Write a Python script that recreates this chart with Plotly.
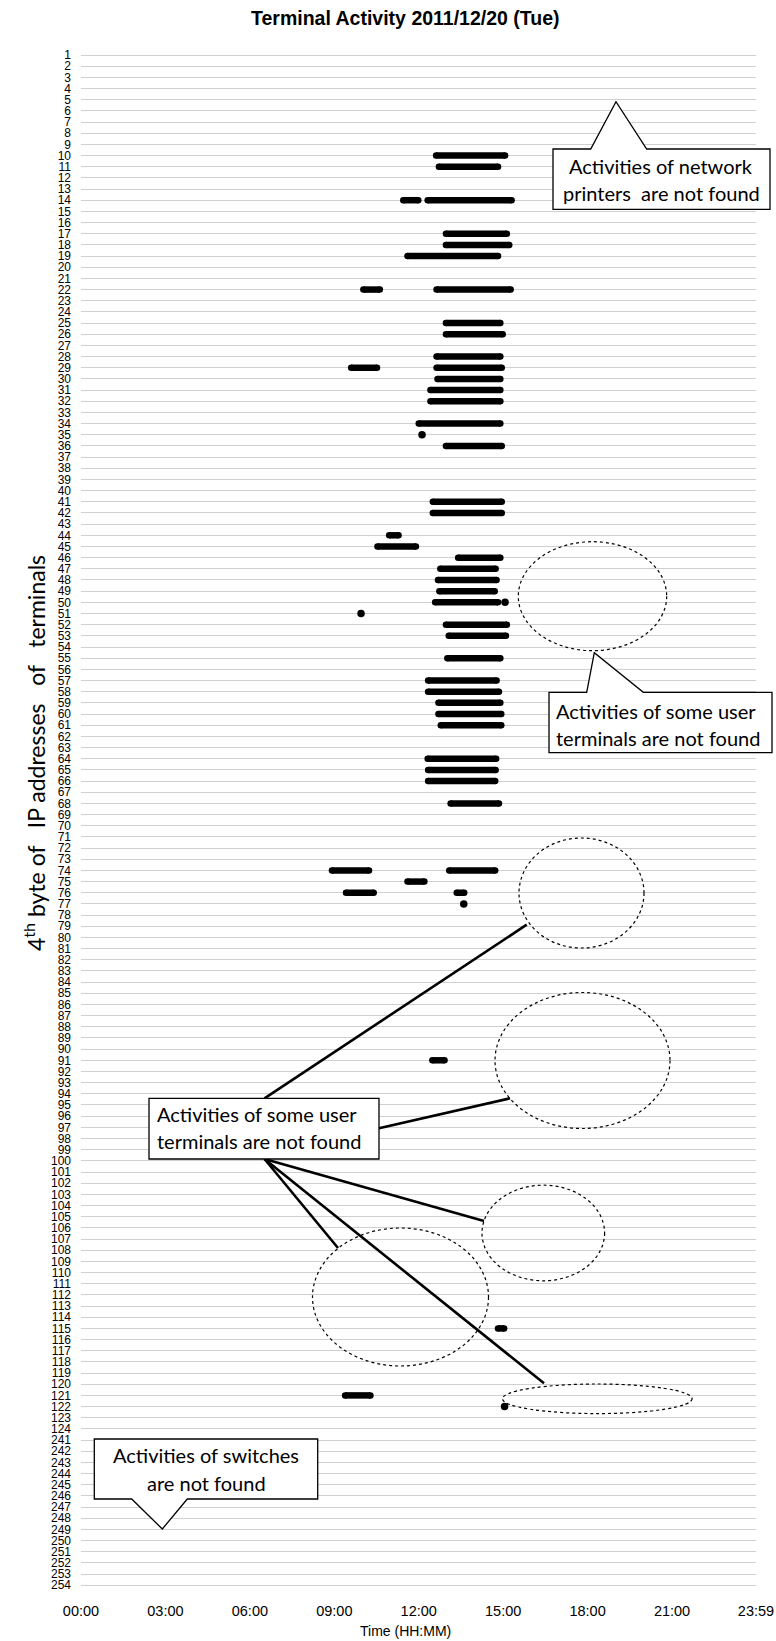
import plotly.graph_objects as go

# ---------------- data ----------------
ip_labels = [str(n) for n in range(1, 125)] + [str(n) for n in range(241, 255)]

seg_ip = ["10", "11", "14", "14", "17", "18", "19", "22", "22", "25", "26", "28",
          "29", "29", "30", "31", "32", "34", "36", "41", "42", "44", "45", "46",
          "47", "48", "49", "50", "52", "53", "55", "57", "58", "59", "60", "61",
          "64", "65", "66", "68", "74", "74", "75", "76", "76", "91", "115", "121"]
seg_start = ["12:37", "12:43", "11:27", "12:19", "12:58", "12:58", "11:36", "10:02", "12:38", "12:58", "12:58", "12:38",
             "09:36", "12:38", "12:40", "12:25", "12:25", "12:00", "12:58", "12:30", "12:30", "10:57", "10:32", "13:24",
             "12:46", "12:41", "12:44", "12:35", "12:58", "13:04", "13:01", "12:20", "12:20", "12:42", "12:42", "12:47",
             "12:19", "12:20", "12:20", "13:08", "08:55", "13:05", "11:36", "09:25", "13:21", "12:29", "14:49", "09:23"]
seg_end = ["15:04", "14:49", "11:59", "15:18", "15:08", "15:13", "14:49", "10:37", "15:16", "14:54", "14:59", "14:54",
           "10:31", "14:57", "14:54", "14:54", "14:54", "14:54", "14:57", "14:57", "14:57", "11:17", "11:54", "14:54",
           "14:44", "14:46", "14:42", "14:49", "15:08", "15:06", "14:54", "14:46", "14:51", "14:54", "14:56", "14:56",
           "14:45", "14:44", "14:43", "14:51", "10:14", "14:43", "12:12", "10:24", "13:37", "12:55", "15:02", "10:17"]

dot_ip = ["35", "50", "51", "77", "122"]
dot_time = ["12:07", "15:04", "09:57", "13:36", "15:03"]

x_tick_labels = ["00:00", "03:00", "06:00", "09:00", "12:00", "15:00", "18:00", "21:00", "23:59"]


def to_min(s):
    h, m = s.split(":")
    return int(h) * 60 + int(m)


x_tick_vals = [to_min(s) for s in x_tick_labels]

# ---------------- geometry ----------------
W, H = 776, 1641
L, R = 81, 20
T, B = 49, 42
PW, PH = W - L - R, H - T - B
ROW0, ROWPX = 55.0, 11.17
y_top = (T - ROW0) / ROWPX
y_bot = y_top + PH / ROWPX


def px(xp):
    return (xp - L) / PW


def py(yp):
    return 1 - (yp - T) / PH


# ---------------- traces ----------------
lx, ly, ex, ey = [], [], [], []
for ip, s, e in zip(seg_ip, seg_start, seg_end):
    yi = ip_labels.index(ip)
    lx += [to_min(s), to_min(e), None]
    ly += [yi, yi, None]
    ex += [to_min(s), to_min(e)]
    ey += [yi, yi]

fig = go.Figure()
fig.add_trace(go.Scatter(x=lx, y=ly, mode="lines", line=dict(color="black", width=6.5),
                         hoverinfo="skip", showlegend=False))
fig.add_trace(go.Scatter(x=ex, y=ey, mode="markers", marker=dict(color="black", size=6.5),
                         hoverinfo="skip", showlegend=False))
fig.add_trace(go.Scatter(x=[to_min(t) for t in dot_time], y=[ip_labels.index(i) for i in dot_ip],
                         mode="markers", marker=dict(color="black", size=7.5),
                         hoverinfo="skip", showlegend=False))

# ---------------- callout shapes ----------------
shapes = []
origin_top = (264.5, 1098.3)
origin_bot = (264.5, 1159.0)
connectors = [
    (origin_top, (526.7, 924.7)),
    ((379.0, 1128.3), (510.0, 1098.3)),
    (origin_bot, (484.0, 1221.0)),
    (origin_bot, (338.0, 1248.0)),
    (origin_bot, (544.0, 1383.3)),
]
for (x0, y0), (x1, y1) in connectors:
    shapes.append(dict(type="line", xref="paper", yref="paper",
                       x0=px(x0), y0=py(y0), x1=px(x1), y1=py(y1),
                       line=dict(color="black", width=2.6)))

ellipses = [  # (cx, cy, rx, ry) in pixels
    (592.5, 596.2, 74.2, 54.5),
    (581.5, 893.0, 62.5, 55.0),
    (582.5, 1060.5, 87.5, 68.0),
    (543.3, 1233.0, 61.3, 47.8),
    (400.5, 1297.0, 88.0, 69.0),
    (597.3, 1398.8, 94.8, 14.8),
]
for cx, cy, rx, ry in ellipses:
    shapes.append(dict(type="circle", xref="paper", yref="paper",
                       x0=px(cx - rx), x1=px(cx + rx), y0=py(cy + ry), y1=py(cy - ry),
                       line=dict(color="black", width=1.2, dash="dot")))


def poly(points):
    return "M " + " L ".join(f"{px(a):.5f},{py(b):.5f}" for a, b in points) + " Z"


callouts = [
    [(553, 149), (590.7, 149), (616, 101.7), (646.7, 149), (770, 149), (770, 209.3), (553, 209.3)],
    [(549, 692.3), (586.7, 692.3), (594.3, 652.7), (643.3, 692.3), (772, 692.3), (772, 752.7), (549, 752.7)],
    [(94.3, 1439), (317.7, 1439), (317.7, 1499), (187.3, 1499), (162.3, 1529), (131.7, 1499), (94.3, 1499)],
    [(149, 1098.3), (379, 1098.3), (379, 1159), (149, 1159)],
]
for pts in callouts:
    shapes.append(dict(type="path", xref="paper", yref="paper", path=poly(pts),
                       fillcolor="white", line=dict(color="black", width=1.3)))

# ---------------- text ----------------
CF = dict(family="Lato, Open Sans, sans-serif", size=20, color="black")
notes = [
    ("Activities of network", 661, 166, "center"),
    ("printers&nbsp; are not found", 661, 193, "center"),
    ("Activities of some user", 554, 711, "left"),
    ("terminals are not found", 554, 738, "left"),
    ("Activities of some user", 155, 1114, "left"),
    ("terminals are not found", 155, 1141, "left"),
    ("Activities of switches", 206, 1455, "center"),
    ("are not found", 206, 1483, "center"),
]
annotations = []
for txt, x, y, anc in notes:
    annotations.append(dict(text=txt, xref="paper", yref="paper", x=px(x), y=py(y),
                            xanchor=anc, yanchor="middle", showarrow=False, font=CF))

annotations.append(dict(text="<b>Terminal Activity 2011/12/20 (Tue)</b>", xref="paper", yref="paper",
                        x=px(405), y=py(18), xanchor="center", yanchor="middle", showarrow=False,
                        font=dict(family="Liberation Sans, Arial, sans-serif", size=19.5, color="black")))
annotations.append(dict(text="Time (HH:MM)", xref="paper", yref="paper",
                        x=px(405), y=py(1631), xanchor="center", yanchor="middle", showarrow=False,
                        font=dict(family="Liberation Sans, Arial, sans-serif", size=14, color="black")))
annotations.append(dict(text="4<sup>th</sup> byte of&nbsp;&nbsp; IP addresses&nbsp;&nbsp; of&nbsp;&nbsp; terminals",
                        xref="paper", yref="paper", x=px(34), y=py(753), textangle=-90,
                        xanchor="center", yanchor="middle", showarrow=False,
                        font=dict(family="Lato, Open Sans, sans-serif", size=23, color="black")))

fig.update_layout(
    width=W, height=H,
    margin=dict(l=L, r=R, t=T, b=B, autoexpand=False),
    paper_bgcolor="white", plot_bgcolor="white",
    shapes=shapes, annotations=annotations,
    showlegend=False,
    xaxis=dict(range=[0, 1439], tickvals=x_tick_vals, ticktext=x_tick_labels,
               showgrid=False, zeroline=False, showline=False, ticks="",
               tickfont=dict(family="Liberation Sans, Arial, sans-serif", size=14.5, color="black"),
               ticklabelstandoff=1, fixedrange=True),
    yaxis=dict(range=[y_bot, y_top], tickvals=list(range(len(ip_labels))), ticktext=ip_labels,
               showgrid=True, gridcolor="#d0d0d0", gridwidth=1, zeroline=False, showline=False,
               ticks="", tickfont=dict(family="Liberation Sans, Arial, sans-serif", size=12, color="black"),
               ticklabelstandoff=9, fixedrange=True),
)

fig.write_html("out.html", config={"displayModeBar": False},
               post_script="document.body.style.margin='0';document.body.style.overflow='hidden';")
